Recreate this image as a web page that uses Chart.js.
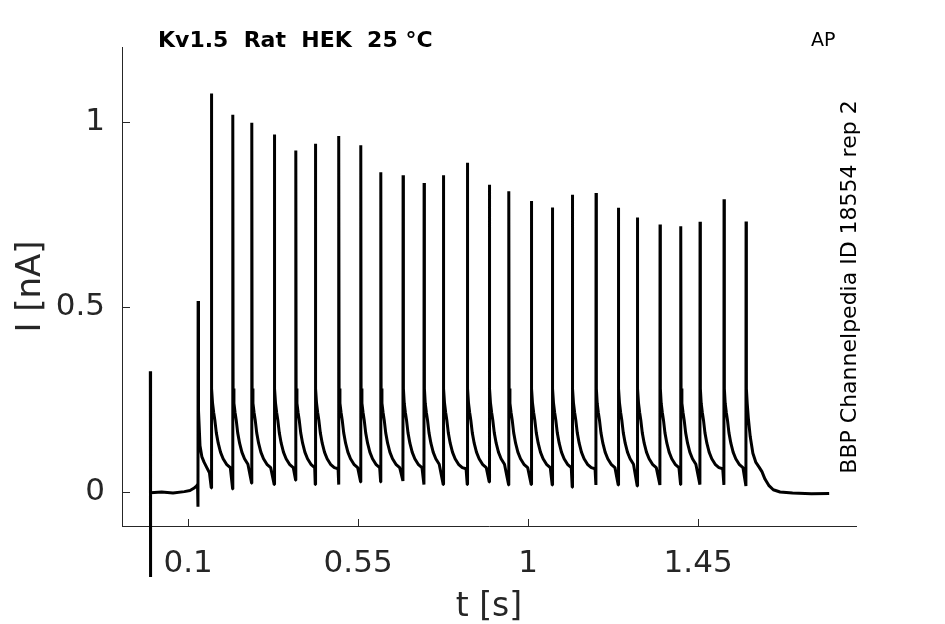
<!DOCTYPE html>
<html>
<head>
<meta charset="utf-8">
<script src="https://cdn.jsdelivr.net/npm/chart.js@4.4.1/dist/chart.umd.min.js"></script>
<style>
  html, body { margin: 0; padding: 0; background: #fff; }
  #wrap { width: 945px; height: 624px; }
</style>
</head>
<body>
<div id="wrap"><canvas id="myCanvas" width="945" height="624"></canvas></div>
<script>
'use strict';

// axis ticks
const xTicks = [0.1, 0.55, 1, 1.45];
const yTicks = [0, 0.5, 1];

// stimulus artifact at t=0 and flat baseline before the first spike
const startT = [0, 0.0003, 0.001, 0.03, 0.06, 0.09, 0.105, 0.115, 0.122, 0.125];
const startI = [0.327, -0.23, -0.002, 0.0, -0.003, 0.001, 0.004, 0.01, 0.016, 0.02];

// spikes (s, nA)
const spikeTimes = [0.1265, 0.1617, 0.2183, 0.2686, 0.3284, 0.3851, 0.4370, 0.4989, 0.5571,
  0.6101, 0.6691, 0.7247, 0.7758, 0.8393, 0.8975, 0.9489, 1.0087, 1.0643, 1.1172, 1.1799,
  1.2390, 1.2893, 1.3493, 1.4041, 1.4552, 1.5187, 1.5770];
const spikePeaks = [0.517, 1.078, 1.021, 0.999, 0.967, 0.924, 0.942, 0.963, 0.938,
  0.865, 0.857, 0.836, 0.857, 0.891, 0.831, 0.814, 0.787, 0.770, 0.804, 0.809,
  0.769, 0.743, 0.724, 0.719, 0.731, 0.792, 0.732];
const spikeDips = [-0.04, 0.011, 0.008, 0.024, 0.02, 0.032, 0.02, 0.02, 0.027,
  0.027, 0.03, 0.02, 0.02, 0.02, 0.027, 0.019, 0.02, 0.019, 0.013, 0.019,
  0.019, 0.016, 0.019, 0.02, 0.02, 0.019, 0.016];

// relaxation after the first (small) spike
const firstRelaxDt = [0.001, 0.005, 0.010, 0.016, 0.023, 0.030];
const firstRelaxI = [0.22, 0.125, 0.095, 0.08, 0.066, 0.052];

// relaxation seen after each spike in the train
const relaxDt = [0.0008, 0.003, 0.006, 0.009, 0.013, 0.018, 0.024, 0.031, 0.040, 0.050, 0.060];
const relaxI = [0.28, 0.24, 0.215, 0.195, 0.16, 0.132, 0.108, 0.09, 0.075, 0.066, 0.063];

// after the last spike, back to baseline
const tailDt = [0.0008, 0.003, 0.006, 0.011, 0.018, 0.026, 0.034, 0.042, 0.050, 0.060, 0.072, 0.090];
const tailI = [0.28, 0.24, 0.2, 0.15, 0.105, 0.08, 0.068, 0.055, 0.035, 0.018, 0.006, 0.0];
const endT = [1.70, 1.75, 1.797];
const endI = [-0.003, -0.005, -0.004];

const axisColor = '#262626';
const fontName = "'DejaVu Sans', sans-serif";

// build the trace
let trace = [];
for (let i = 0; i < startT.length; i++) {
  trace.push({x: startT[i], y: startI[i]});
}
for (let k = 0; k < spikeTimes.length; k++) {
  let t = spikeTimes[k];
  trace.push({x: t - 0.0004, y: spikeDips[k]});
  trace.push({x: t, y: spikePeaks[k]});
  let last = k === spikeTimes.length - 1;
  let dts = k === 0 ? firstRelaxDt : (last ? tailDt : relaxDt);
  let vals = k === 0 ? firstRelaxI : (last ? tailI : relaxI);
  let next = last ? Infinity : spikeTimes[k + 1];
  for (let j = 0; j < dts.length; j++) {
    if (t + dts[j] < next - 0.0015) {
      trace.push({x: t + dts[j], y: vals[j]});
    }
  }
}
for (let i = 0; i < endT.length; i++) {
  trace.push({x: endT[i], y: endI[i]});
}

// inward ticks and the free text around the axes
const decorPlugin = {
  id: 'decor',
  afterDraw(chart) {
    const ctx = chart.ctx;
    const area = chart.chartArea;
    const xs = chart.scales.x;
    const ys = chart.scales.y;
    ctx.save();
    ctx.strokeStyle = axisColor;
    ctx.lineWidth = 1;
    ctx.beginPath();
    xTicks.forEach(v => {
      let px = Math.round(xs.getPixelForValue(v)) + 0.5;
      ctx.moveTo(px, area.bottom);
      ctx.lineTo(px, area.bottom - 7);
    });
    yTicks.forEach(v => {
      let py = Math.round(ys.getPixelForValue(v)) + 0.5;
      ctx.moveTo(area.left, py);
      ctx.lineTo(area.left + 8, py);
    });
    ctx.stroke();

    ctx.fillStyle = '#000';
    ctx.textBaseline = 'alphabetic';
    ctx.textAlign = 'left';
    ctx.font = 'bold 22px ' + fontName;
    ctx.fillText('Kv1.5  Rat  HEK  25 °C', 158, 47);
    ctx.font = '19px ' + fontName;
    ctx.fillText('AP', 811, 46);

    ctx.translate(850, 287);
    ctx.rotate(-Math.PI / 2);
    ctx.textAlign = 'center';
    ctx.textBaseline = 'middle';
    ctx.font = '22px ' + fontName;
    ctx.fillText('BBP Channelpedia ID 18554 rep 2', 0, 0);
    ctx.restore();
  }
};

const chartSection = document.getElementById('myCanvas').getContext('2d');
let myChart = new Chart(chartSection, {
  type: 'scatter',
  data: {
    datasets: [
      {
        data: trace,
        showLine: true,
        borderColor: '#000',
        borderWidth: 3,
        borderJoinStyle: 'bevel',
        pointRadius: 0,
        tension: 0,
        clip: false,
      },
    ],
  },
  options: {
    responsive: false,
    animation: false,
    devicePixelRatio: 1,
    layout: { padding: { left: 0, top: 47, right: 89, bottom: 0 } },
    plugins: { legend: { display: false }, tooltip: { enabled: false } },
    scales: {
      x: {
        type: 'linear',
        min: -0.075,
        max: 1.868,
        afterFit: s => { s.height = 98; },
        afterBuildTicks: s => { s.ticks = xTicks.map(v => ({value: v})); },
        grid: { display: false, drawTicks: false },
        border: { display: true, color: axisColor, width: 1 },
        ticks: {
          autoSkip: false,
          maxRotation: 0,
          padding: 19,
          color: axisColor,
          font: { family: fontName, size: 31 },
          callback: v => String(v),
        },
        title: {
          display: true,
          text: 't [s]',
          color: axisColor,
          font: { family: fontName, size: 33 },
          padding: { top: 0, bottom: -3 },
        },
      },
      y: {
        type: 'linear',
        min: -0.092,
        max: 1.204,
        afterFit: s => { s.width = 122; },
        afterBuildTicks: s => { s.ticks = yTicks.map(v => ({value: v})); },
        grid: { display: false, drawTicks: false },
        border: { display: true, color: axisColor, width: 1 },
        ticks: {
          autoSkip: false,
          padding: 17,
          color: axisColor,
          font: { family: fontName, size: 31 },
          callback: v => String(v),
        },
        title: {
          display: true,
          text: 'I [nA]',
          color: axisColor,
          font: { family: fontName, size: 34 },
          padding: { top: 11, bottom: 0 },
        },
      },
    },
  },
  plugins: [decorPlugin],
});
</script>
</body>
</html>
